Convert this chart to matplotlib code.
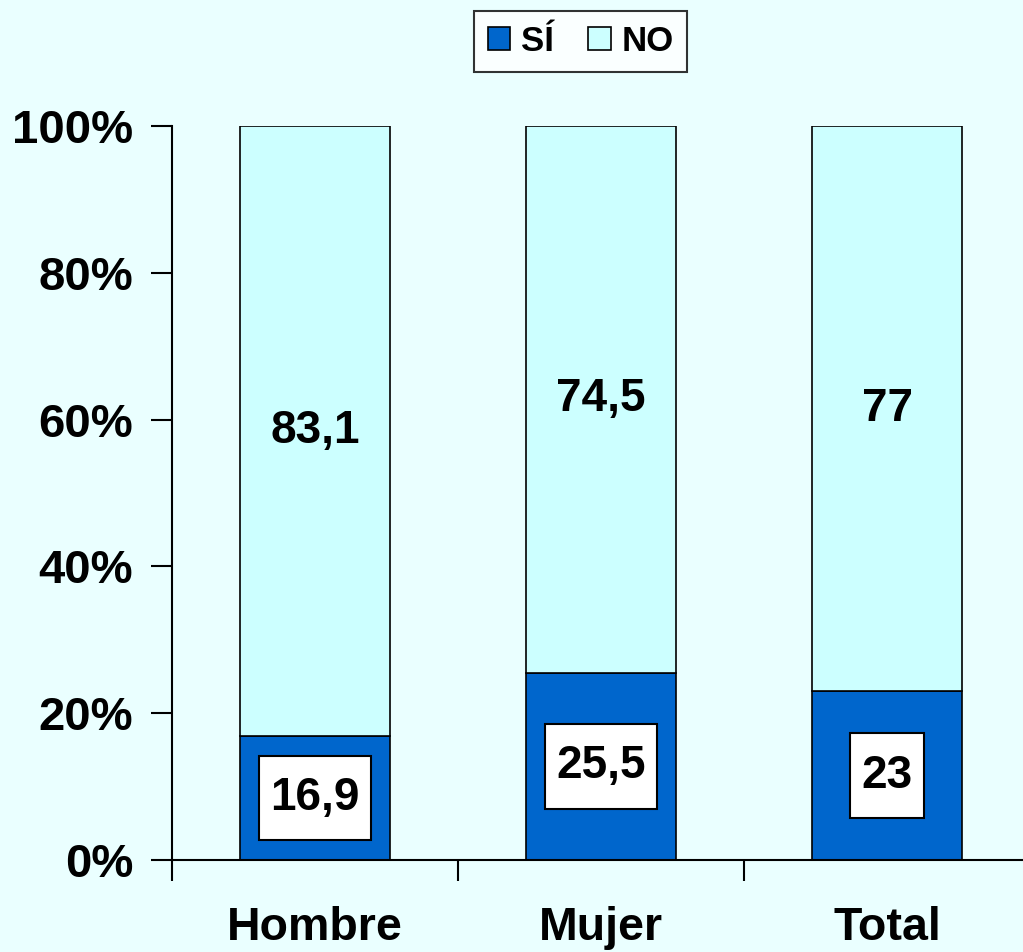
import numpy as np
import matplotlib
import matplotlib.pyplot as plt

matplotlib.use('Agg')
plt.rcParams['font.family'] = ['Liberation Sans', 'DejaVu Sans']
plt.rcParams['font.weight'] = 'bold'

# ── Data ───────────────────────────────────────────────────────────────────────
categories = ['Hombre', 'Mujer', 'Total']
si_values = [16.9, 25.5, 23.0]
no_values = [83.1, 74.5, 77.0]
si_labels = ['16,9', '25,5', '23']
no_labels = ['83,1', '74,5', '77']
y_ticks = [0, 20, 40, 60, 80, 100]
y_tick_labels = ['0%', '20%', '40%', '60%', '80%', '100%']

# Colors
C_BG = '#EAFFFF'
C_SI = '#0066CC'
C_NO = '#CCFFFF'

fig = plt.figure(figsize=(10.23, 9.52), dpi=100)
fig.patch.set_facecolor(C_BG)
ax = fig.add_axes([172 / 1023, 92 / 952, 858 / 1023, 734 / 952])
ax.set_facecolor(C_BG)

x = np.arange(len(categories))
bar_w = 0.524
b_si = ax.bar(x, si_values, bar_w, color=C_SI, edgecolor='black', lw=1.2, label='SÍ')
b_no = ax.bar(x, no_values, bar_w, bottom=si_values, color=C_NO,
              edgecolor='black', lw=1.2, label='NO')

for xi, s, n, sl, nl in zip(x, si_values, no_values, si_labels, no_labels):
    ax.text(xi, s / 2, sl, ha='center', va='center', fontsize=33, fontweight='bold',
            bbox=dict(boxstyle='square,pad=0.24', facecolor='white',
                      edgecolor='black', lw=1.5, mutation_aspect=1.85))
    ax.text(xi, s + n / 2, nl, ha='center', va='center', fontsize=33,
            fontweight='bold')

ax.set_xlim(-0.5, len(categories) - 0.5)
ax.set_ylim(0, 100)
ax.set_yticks(y_ticks)
ax.set_yticklabels(y_tick_labels, fontsize=34, fontweight='bold')
ax.tick_params(axis='y', length=15, width=1.5, pad=13)

# category labels centered, ticks at boundaries
ax.set_xticks(x)
ax.set_xticklabels(categories, fontsize=33.5, fontweight='bold')
ax.tick_params(axis='x', which='major', length=0, pad=33)
ax.set_xticks(np.arange(len(categories) + 1) - 0.5, minor=True)
ax.tick_params(axis='x', which='minor', length=15, width=1.5)

for side in ['top', 'right']:
    ax.spines[side].set_visible(False)
for side in ['left', 'bottom']:
    ax.spines[side].set_linewidth(1.5)

leg = fig.legend(handles=[b_si, b_no], labels=['SÍ', 'NO'], loc='center',
                 bbox_to_anchor=(580.5 / 1023, 1 - 41.5 / 952), ncol=2,
                 frameon=True, fancybox=False, edgecolor='black',
                 prop={'size': 25, 'weight': 'bold'},
                 handlelength=0.65, handleheight=0.65, handletextpad=0.3,
                 columnspacing=1.0, borderpad=0.4)
leg.get_frame().set_linewidth(1.5)

fig.savefig('out.png', dpi=100, facecolor=C_BG)
